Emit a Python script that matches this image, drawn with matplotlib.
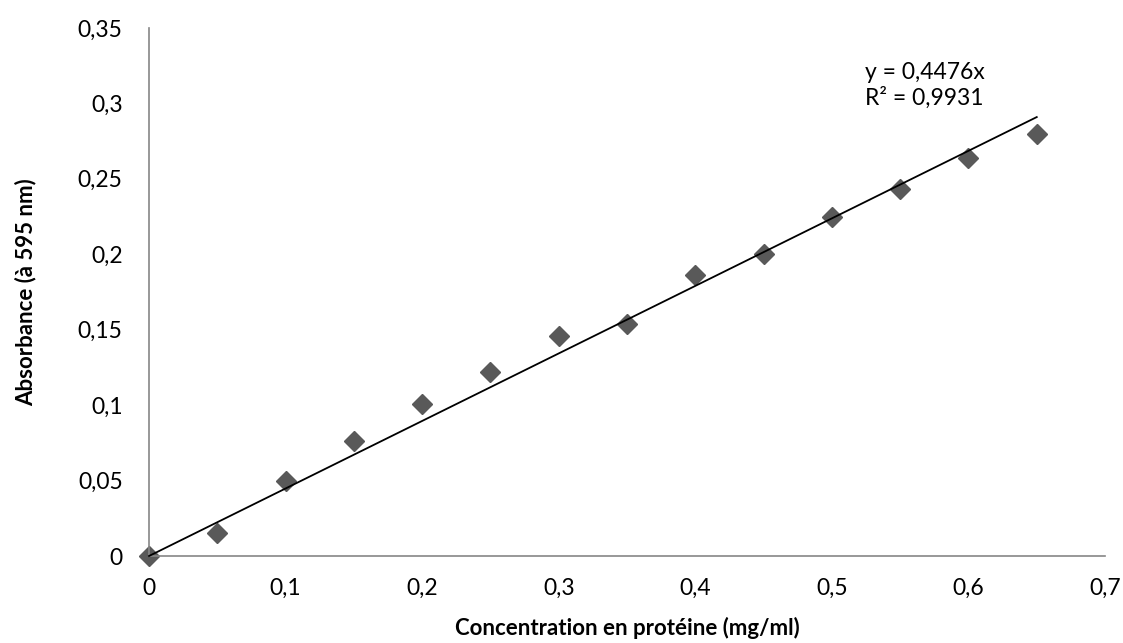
import matplotlib.pyplot as plt
import numpy as np

plt.rcParams['font.family'] = ['Lato', 'DejaVu Sans']

# concentrations (mg/ml) and absorbance at 595 nm
conc = [0, 0.05, 0.1, 0.15, 0.2, 0.25, 0.3, 0.35, 0.4, 0.45, 0.5, 0.55, 0.6, 0.65]
absorb = [0, 0.015, 0.05, 0.076, 0.101, 0.122, 0.146, 0.154, 0.186, 0.200, 0.225, 0.243, 0.264, 0.280]
slope = 0.4476
r2 = 0.9931

xticks = [0, 0.1, 0.2, 0.3, 0.4, 0.5, 0.6, 0.7]
yticks = [0, 0.05, 0.1, 0.15, 0.2, 0.25, 0.3, 0.35]

def virgule(v):
    return ('%g' % v).replace('.', ',')

fig = plt.figure(figsize=(11.23, 6.43), dpi=100)
ax = fig.add_axes([0.1327, 0.1353, 0.8513, 0.8212])

ax.plot(conc, absorb, linestyle='none', marker='D', markersize=10.5,
        color='#595959', zorder=2, clip_on=False)

# droite de tendance passant par l'origine
xl = np.array([0, conc[-1]])
ax.plot(xl, slope * xl, color='black', linewidth=1.3, zorder=3, clip_on=False)

ax.set_xlim(0, 0.7)
ax.set_ylim(0, 0.35)
ax.set_xticks(xticks)
ax.set_yticks(yticks)
ax.set_xticklabels([virgule(v) for v in xticks])
ax.set_yticklabels([virgule(v) for v in yticks])
ax.tick_params(axis='x', length=0, labelsize=16.5, pad=16)
ax.tick_params(axis='y', length=0, labelsize=16.5, pad=19)

for s in ['top', 'right']:
    ax.spines[s].set_visible(False)
for s in ['left', 'bottom']:
    ax.spines[s].set_color('#868686')
    ax.spines[s].set_linewidth(1.2)

ax.set_xlabel('Concentration en protéine (mg/ml)', fontsize=16, fontweight='bold', labelpad=13)
ax.set_ylabel('Absorbance (à 595 nm)', fontsize=16, fontweight='bold', labelpad=30)

ax.text(0.524, 0.312, 'y = %sx\nR² = %s' % (virgule(slope), virgule(r2)),
        fontsize=16.5, va='center', ha='left', linespacing=1.2)

fig.savefig('out.png', dpi=100)
